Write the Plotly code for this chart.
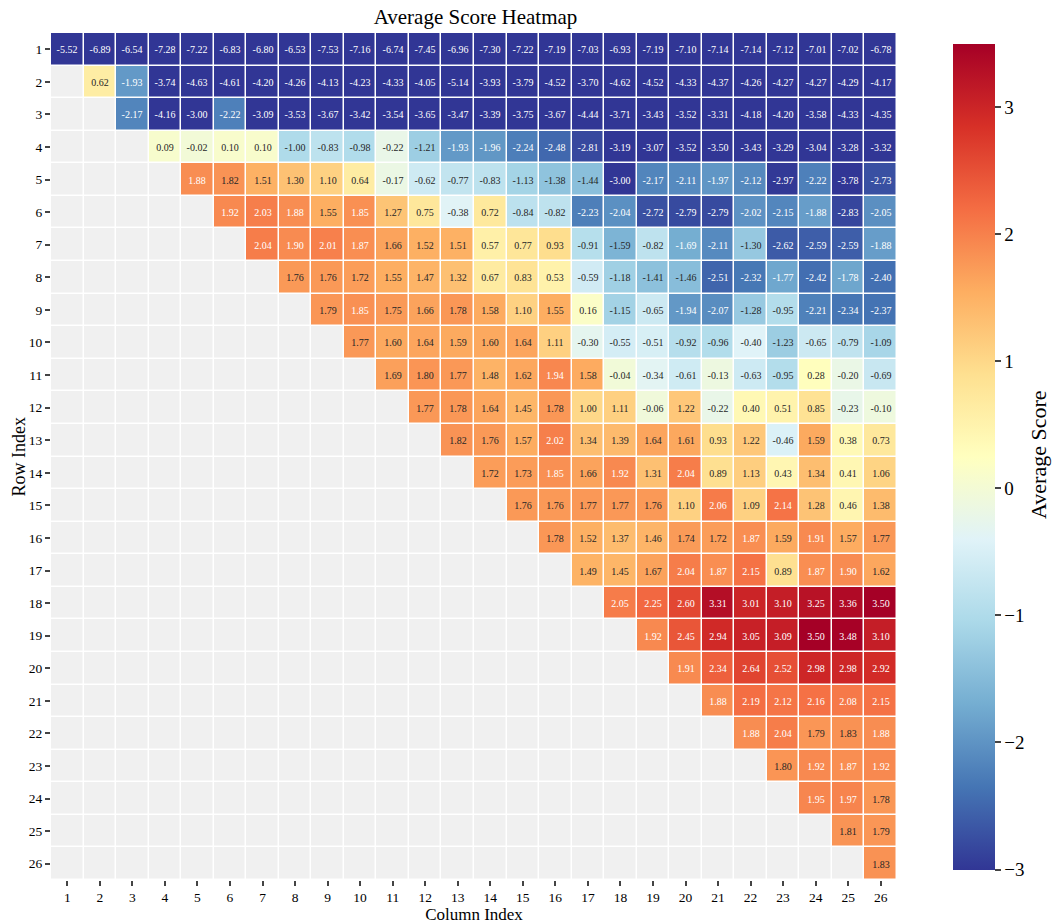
import plotly.graph_objects as go
import numpy as np

N = 26
col_labels = [str(i) for i in range(1, N + 1)]
row_labels = [str(i) for i in range(1, N + 1)]

# Upper-triangle values: row i lists columns i..26
row_01 = [-5.52, -6.89, -6.54, -7.28, -7.22, -6.83, -6.80, -6.53, -7.53, -7.16, -6.74, -7.45, -6.96,
          -7.30, -7.22, -7.19, -7.03, -6.93, -7.19, -7.10, -7.14, -7.14, -7.12, -7.01, -7.02, -6.78]
row_02 = [0.62, -1.93, -3.74, -4.63, -4.61, -4.20, -4.26, -4.13, -4.23, -4.33, -4.05, -5.14,
          -3.93, -3.79, -4.52, -3.70, -4.62, -4.52, -4.33, -4.37, -4.26, -4.27, -4.27, -4.29, -4.17]
row_03 = [-2.17, -4.16, -3.00, -2.22, -3.09, -3.53, -3.67, -3.42, -3.54, -3.65, -3.47,
          -3.39, -3.75, -3.67, -4.44, -3.71, -3.43, -3.52, -3.31, -4.18, -4.20, -3.58, -4.33, -4.35]
row_04 = [0.09, -0.02, 0.10, 0.10, -1.00, -0.83, -0.98, -0.22, -1.21, -1.93,
          -1.96, -2.24, -2.48, -2.81, -3.19, -3.07, -3.52, -3.50, -3.43, -3.29, -3.04, -3.28, -3.32]
row_05 = [1.88, 1.82, 1.51, 1.30, 1.10, 0.64, -0.17, -0.62, -0.77,
          -0.83, -1.13, -1.38, -1.44, -3.00, -2.17, -2.11, -1.97, -2.12, -2.97, -2.22, -3.78, -2.73]
row_06 = [1.92, 2.03, 1.88, 1.55, 1.85, 1.27, 0.75, -0.38,
          0.72, -0.84, -0.82, -2.23, -2.04, -2.72, -2.79, -2.79, -2.02, -2.15, -1.88, -2.83, -2.05]
row_07 = [2.04, 1.90, 2.01, 1.87, 1.66, 1.52, 1.51,
          0.57, 0.77, 0.93, -0.91, -1.59, -0.82, -1.69, -2.11, -1.30, -2.62, -2.59, -2.59, -1.88]
row_08 = [1.76, 1.76, 1.72, 1.55, 1.47, 1.32,
          0.67, 0.83, 0.53, -0.59, -1.18, -1.41, -1.46, -2.51, -2.32, -1.77, -2.42, -1.78, -2.40]
row_09 = [1.79, 1.85, 1.75, 1.66, 1.78,
          1.58, 1.10, 1.55, 0.16, -1.15, -0.65, -1.94, -2.07, -1.28, -0.95, -2.21, -2.34, -2.37]
row_10 = [1.77, 1.60, 1.64, 1.59,
          1.60, 1.64, 1.11, -0.30, -0.55, -0.51, -0.92, -0.96, -0.40, -1.23, -0.65, -0.79, -1.09]
row_11 = [1.69, 1.80, 1.77, 1.48, 1.62, 1.94, 1.58, -0.04, -0.34, -0.61, -0.13, -0.63, -0.95, 0.28, -0.20, -0.69]
row_12 = [1.77, 1.78, 1.64, 1.45, 1.78, 1.00, 1.11, -0.06, 1.22, -0.22, 0.40, 0.51, 0.85, -0.23, -0.10]
row_13 = [1.82, 1.76, 1.57, 2.02, 1.34, 1.39, 1.64, 1.61, 0.93, 1.22, -0.46, 1.59, 0.38, 0.73]
row_14 = [1.72, 1.73, 1.85, 1.66, 1.92, 1.31, 2.04, 0.89, 1.13, 0.43, 1.34, 0.41, 1.06]
row_15 = [1.76, 1.76, 1.77, 1.77, 1.76, 1.10, 2.06, 1.09, 2.14, 1.28, 0.46, 1.38]
row_16 = [1.78, 1.52, 1.37, 1.46, 1.74, 1.72, 1.87, 1.59, 1.91, 1.57, 1.77]
row_17 = [1.49, 1.45, 1.67, 2.04, 1.87, 2.15, 0.89, 1.87, 1.90, 1.62]
row_18 = [2.05, 2.25, 2.60, 3.31, 3.01, 3.10, 3.25, 3.36, 3.50]
row_19 = [1.92, 2.45, 2.94, 3.05, 3.09, 3.50, 3.48, 3.10]
row_20 = [1.91, 2.34, 2.64, 2.52, 2.98, 2.98, 2.92]
row_21 = [1.88, 2.19, 2.12, 2.16, 2.08, 2.15]
row_22 = [1.88, 2.04, 1.79, 1.83, 1.88]
row_23 = [1.80, 1.92, 1.87, 1.92]
row_24 = [1.95, 1.97, 1.78]
row_25 = [1.81, 1.79]
row_26 = [1.83]

rows = [row_01, row_02, row_03, row_04, row_05, row_06, row_07, row_08, row_09, row_10,
        row_11, row_12, row_13, row_14, row_15, row_16, row_17, row_18, row_19, row_20,
        row_21, row_22, row_23, row_24, row_25, row_26]

Z = np.full((N, N), np.nan)
for i, r in enumerate(rows):
    for k, v in enumerate(r):
        Z[i, i + k] = v

mask = np.where(np.isnan(Z), 0.0, np.nan)
light = np.where((Z >= 1.845) | (Z <= -1.65), Z, np.nan)
dark = np.where((Z < 1.845) & (Z > -1.65), Z, np.nan)

FONT = "Liberation Serif"
ZMIN, ZMAX = -3.0, 3.5

fig = go.Figure()
fig.add_trace(go.Heatmap(
    z=mask, x=col_labels, y=row_labels,
    colorscale=[[0, "#f0f0f0"], [1, "#f0f0f0"]], showscale=False,
    xgap=1.5, ygap=1.5, hoverinfo="skip"))

common = dict(x=col_labels, y=row_labels, colorscale="RdYlBu_r", zmin=ZMIN, zmax=ZMAX,
              xgap=1.5, ygap=1.5, texttemplate="%{z:.2f}")

fig.add_trace(go.Heatmap(
    z=light, textfont=dict(family=FONT, size=10, color="white"), showscale=True,
    colorbar=dict(
        thickness=42, len=0.975, lenmode="fraction", y=0.5, yanchor="middle",
        x=1.066, xanchor="left", outlinewidth=0, ypad=0, xpad=0,
        tickvals=[-3, -2, -1, 0, 1, 2, 3], ticks="outside", ticklen=6, tickwidth=1.5,
        tickfont=dict(family=FONT, size=19)),
    **common))
fig.add_trace(go.Heatmap(
    z=dark, textfont=dict(family=FONT, size=10, color="#262626"), showscale=False,
    **common))

fig.add_annotation(text="Average Score", textangle=-90, xref="paper", yref="paper",
                   x=1.1678, y=0.5018, xanchor="center", yanchor="middle", showarrow=False,
                   font=dict(family=FONT, size=22, color="black"))
fig.add_annotation(text="Row Index", textangle=-90, xref="paper", yref="paper",
                   x=-0.039, y=0.5, xanchor="center", yanchor="middle", showarrow=False,
                   font=dict(family=FONT, size=18, color="black"))

fig.update_layout(
    width=1052, height=924,
    margin=dict(l=51, r=155, t=33, b=44, autoexpand=False),
    plot_bgcolor="white", paper_bgcolor="white",
    font=dict(family=FONT, color="black"),
    title=dict(text="Average Score Heatmap", x=0.452, xanchor="center", y=0.9816, yanchor="middle",
               font=dict(family=FONT, size=21)),
    xaxis=dict(title=dict(text="Column Index", font=dict(size=17), standoff=2),
               tickfont=dict(size=13.5), ticks="outside", ticklen=5, tickwidth=1.5,
               showgrid=False, zeroline=False, type="category", automargin=False),
    yaxis=dict(tickfont=dict(size=13.5), ticks="outside", ticklen=5, tickwidth=1.5,
               autorange="reversed", showgrid=False, zeroline=False, type="category",
               automargin=False),
)

fig.write_html("out.html", config={"displayModeBar": False},
               post_script="document.body.style.margin='0';")
